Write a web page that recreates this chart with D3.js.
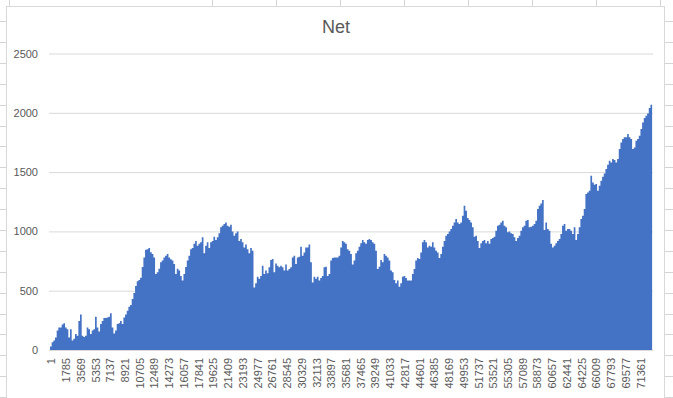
<!DOCTYPE html>
<html>
<head>
<meta charset="utf-8">
<script src="https://cdn.jsdelivr.net/npm/d3@7"></script>
<style>
  body { margin: 0; background: #fff; }
  svg { display: block; }
  text { font-family: "Liberation Sans", Arial, sans-serif; fill: #595959; }
</style>
</head>
<body>
<div id="chart"></div>
<script>
// Net value, one sample every 202 rows (row 1 .. 72923)
var net = [
  30, 65, 80, 105, 165, 190, 190, 215, 225, 190, 175, 105, 175, 80, 95, 135, 120, 245, 300, 120,
  110, 120, 190, 175, 135, 165, 175, 280, 190, 155, 220, 245, 270, 270, 275, 280, 310, 190, 140, 165,
  220, 225, 245, 220, 275, 300, 330, 365, 380, 430, 480, 540, 580, 590, 610, 700, 780, 845, 850, 860,
  825, 810, 780, 640, 655, 685, 740, 755, 780, 795, 810, 780, 765, 755, 725, 640, 685, 670, 625, 585,
  640, 700, 755, 795, 850, 860, 895, 920,
  880, 895, 908, 950, 815, 880, 908, 860, 908, 920, 955, 927, 950, 985, 1035, 1048, 1062, 1076, 1048, 1040,
  1057, 1000, 964, 985, 1000, 920, 935, 908, 865, 890, 850, 815, 860, 837, 528, 562, 618, 600, 625, 710,
  640, 670, 648, 697, 758, 767, 655, 730, 710, 697, 710, 697, 670, 720, 670, 683, 697, 780, 795, 725,
  780, 787, 870, 795, 823, 865, 865, 890, 740, 570, 618, 600, 618, 585, 607, 625, 697, 702, 625, 640,
  755, 775, 780, 780, 780, 795, 865, 920, 908, 895,
  850, 837, 810, 720, 755, 815, 837, 870, 900, 927, 908, 895, 927, 935, 927, 908, 895, 837, 683, 702,
  758, 740, 810, 795, 780, 755, 670, 655, 590, 562, 585, 534, 562, 618, 625, 607, 585, 585, 585, 640,
  683, 755, 775, 767, 823, 908, 927, 908, 865, 880, 870, 908, 865, 837, 823, 775, 810, 870, 920, 964,
  978, 1000, 1020, 1048, 1076, 1104, 1076, 1062, 1076, 1132, 1216, 1175, 1112, 1096, 1076, 1035, 955, 964, 920, 860,
  900, 920, 927, 900, 920, 895, 935, 944, 955, 1006,
  1048, 1057, 1076, 1090, 1048, 1035, 992, 1000, 985, 978, 950, 920, 944, 964, 1006, 1035, 1048, 1090, 1096, 1035,
  1040, 1048, 1062, 1090, 1188, 1216, 1236, 1264, 1012, 1076, 1020, 1006, 895, 865, 880, 900, 920, 935, 978, 1048,
  1062, 1006, 1020, 1020, 1006, 978, 1035, 927, 978, 1035, 1104, 1132, 1188, 1315, 1329, 1343, 1470, 1413, 1394, 1399,
  1343, 1385, 1427, 1461, 1489, 1526, 1562, 1596, 1582, 1610, 1602, 1582, 1610, 1694, 1750, 1779, 1793, 1793, 1821, 1793,
  1779, 1694, 1708, 1765, 1779, 1807, 1863, 1919, 1956, 1975, 1995, 2040, 2068, 2060
];
var rowStep = 202;
var rowCount = 73030;

var xTickRows = [
  1, 1785, 3569, 5353, 7137, 8921, 10705, 12489, 14273, 16057, 17841, 19625, 21409, 23193,
  24977, 26761, 28545, 30329, 32113, 33897, 35681, 37465, 39249, 41033, 42817, 44601, 46385,
  48169, 49953, 51737, 53521, 55305, 57089, 58873, 60657, 62441, 64225, 66009, 67793, 69577, 71361
];
var yTicks = [0, 500, 1000, 1500, 2000, 2500];
var title = "Net";

var width = 673, height = 398;
var plot = {left: 50, right: 653, top: 53.5, bottom: 350};

var svg = d3.select("#chart").append("svg")
    .attr("width", width).attr("height", height);

// spreadsheet cells peeking out around the chart object
var sheet = svg.append("g").attr("stroke", "#d4d4d4").attr("stroke-width", 1);
[9, 212, 276, 340, 404, 468, 532, 596, 660].forEach(function(cx) {
    sheet.append("line").attr("x1", cx + .5).attr("x2", cx + .5).attr("y1", 0).attr("y2", 6);
});
for (var ry = 21; ry < height; ry += 20.9) {
    var yy = Math.round(ry) + .5;
    sheet.append("line").attr("x1", 0).attr("x2", 6).attr("y1", yy).attr("y2", yy);
    sheet.append("line").attr("x1", 665).attr("x2", width).attr("y1", yy).attr("y2", yy);
}

// chart object frame
svg.append("rect")
    .attr("x", 6.5).attr("y", 6.5)
    .attr("width", 658).attr("height", 400)
    .attr("fill", "#fff")
    .attr("stroke", "#d9d9d9");

svg.append("text")
    .attr("x", 336).attr("y", 33)
    .attr("text-anchor", "middle")
    .style("font-size", "18px")
    .text(title);

var x = d3.scaleLinear().domain([1, rowCount]).range([plot.left, plot.right]);
var y = d3.scaleLinear().domain([0, 2500]).range([plot.bottom, plot.top]);

var data = net.map(function(v, i) { return {row: 1 + i * rowStep, v: v}; });

// horizontal gridlines + y labels
var yAxis = svg.append("g").attr("transform", "translate(" + (plot.left - 1) + ",0)")
    .call(d3.axisLeft(y).tickValues(yTicks).tickFormat(d3.format("d"))
          .tickSize(-(plot.right - plot.left + 1)).tickPadding(11));
yAxis.select(".domain").remove();
yAxis.selectAll(".tick line").attr("stroke", "#d9d9d9");
yAxis.selectAll(".tick text").style("font-size", "11px").attr("fill", "#595959");

var area = d3.area()
    .curve(d3.curveStepAfter)
    .x(function(d) { return x(d.row); })
    .y0(y(0))
    .y1(function(d) { return y(d.v); });

svg.append("path")
    .datum(data)
    .attr("fill", "#4472c4")
    .attr("d", area);

// category axis
var xAxis = svg.append("g").attr("transform", "translate(0," + plot.bottom + ")")
    .call(d3.axisBottom(x).tickValues(xTickRows).tickFormat(d3.format("d")).tickSize(0));
xAxis.select(".domain").attr("stroke", "#d9d9d9").attr("d", "M" + (plot.left - 1) + ",0.5H" + plot.right);
xAxis.selectAll(".tick text")
    .style("font-size", "11px")
    .attr("fill", "#595959")
    .attr("text-anchor", "end")
    .attr("transform", "rotate(-90)")
    .attr("x", -8)
    .attr("y", 1)
    .attr("dy", "0.35em");
</script>
</body>
</html>
